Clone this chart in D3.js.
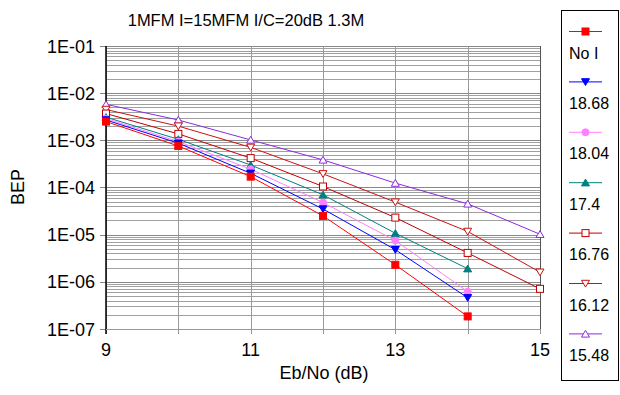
<!DOCTYPE html>
<html><head><meta charset="utf-8">
<script src="https://cdn.jsdelivr.net/npm/d3@7"></script>
<style>
body{margin:0;background:#fff;}
svg{display:block;font-family:"Liberation Sans",Arial,sans-serif;}
</style></head>
<body>
<svg id="c" width="620" height="395"></svg>
<script>
const title = "1MFM I=15MFM I/C=20dB 1.3M";
const xLabel = "Eb/No (dB)";
const yLabel = "BEP";
const xValues = [9, 10, 11, 12, 13, 14, 15];
const xTicks = [9, 11, 13, 15];
const yTicks = [1e-1, 1e-2, 1e-3, 1e-4, 1e-5, 1e-6, 1e-7];
const yTickLabels = ["1E-01", "1E-02", "1E-03", "1E-04", "1E-05", "1E-06", "1E-07"];
const seriesNames = ["No I", "18.68", "18.04", "17.4", "16.76", "16.12", "15.48"];
const sNoI   = [2.5e-3, 7.6e-4, 1.7e-4, 2.5e-5, 2.3e-6, 1.85e-7];
const s1868  = [2.7e-3, 8.7e-4, 2.0e-4, 3.5e-5, 4.8e-6, 4.6e-7];
const s1804  = [2.9e-3, 9.4e-4, 2.45e-4, 4.8e-5, 7.5e-6, 6.2e-7];
const s174   = [3.1e-3, 1.05e-3, 3.0e-4, 7.0e-5, 1.07e-5, 1.9e-6];
const s1676  = [3.7e-3, 1.37e-3, 4.2e-4, 1.05e-4, 2.3e-5, 4.1e-6, 7.1e-7];
const s1612  = [4.5e-3, 2.0e-3, 7.1e-4, 1.95e-4, 4.9e-5, 1.17e-5, 1.6e-6];
const s1548  = [5.8e-3, 2.7e-3, 1.02e-3, 3.85e-4, 1.24e-4, 4.5e-5, 1.02e-5];
const seriesValues = [sNoI, s1868, s1804, s174, s1676, s1612, s1548];
const colors = ["#ff0000", "#0000ff", "#ff80ff", "#008080", "#c00000", "#cc1111", "#8a2be2"];
const markers = ["square", "triDown", "circle", "triUp", "squareOpen", "triDownOpen", "triUpOpen"];

const svg = d3.select("#c");
const L = 106, R = 540, T = 46, B = 329;
const x = d3.scaleLinear().domain([9, 15]).range([L, R]);
const y = d3.scaleLog().domain([1e-7, 1e-1]).range([B, T]);

// grid
const g = svg.append("g");
const minors = [];
for (let e = -7; e < -1; e++) for (let m = 2; m <= 9; m++) minors.push(m * Math.pow(10, e));
g.selectAll(".mn").data(minors).enter().append("line")
  .attr("x1", L).attr("x2", R).attr("y1", d => Math.round(y(d)) + 0.5).attr("y2", d => Math.round(y(d)) + 0.5)
  .attr("stroke", "#a0a0a0").attr("stroke-width", 1);
g.selectAll(".mj").data(yTicks).enter().append("line")
  .attr("x1", L - 6).attr("x2", R).attr("y1", d => Math.round(y(d)) + 0.5).attr("y2", d => Math.round(y(d)) + 0.5)
  .attr("stroke", "#888").attr("stroke-width", 1);
g.selectAll(".vx").data(xValues).enter().append("line")
  .attr("x1", d => Math.round(x(d)) + 0.5).attr("x2", d => Math.round(x(d)) + 0.5)
  .attr("y1", T).attr("y2", B + 5)
  .attr("stroke", "#999").attr("stroke-width", 1);
// borders
svg.append("line").attr("x1", L).attr("x2", L).attr("y1", T).attr("y2", B + 5).attr("stroke", "#000").attr("stroke-width", 1.5);
svg.append("line").attr("x1", L).attr("x2", R).attr("y1", B + 0.5).attr("y2", B + 0.5).attr("stroke", "#999");
svg.append("line").attr("x1", R + 0.5).attr("x2", R + 0.5).attr("y1", T).attr("y2", B).attr("stroke", "#555");

// axes labels
svg.selectAll(".yl").data(yTicks).enter().append("text")
  .attr("x", 95).attr("y", d => y(d) + 6.5).attr("text-anchor", "end")
  .attr("font-size", 18).text((d, i) => yTickLabels[i]);
svg.selectAll(".xl").data(xTicks).enter().append("text")
  .attr("x", d => x(d)).attr("y", 356).attr("text-anchor", "middle")
  .attr("font-size", 18).text(d => d);
svg.append("text").attr("x", 324).attr("y", 379).attr("text-anchor", "middle").attr("font-size", 18).text(xLabel);
svg.append("text").attr("transform", "translate(24,187) rotate(-90)").attr("text-anchor", "middle").attr("font-size", 18).text(yLabel);
svg.append("text").attr("x", 246).attr("y", 26).attr("text-anchor", "middle").attr("font-size", 16.5).text(title);

function drawMarker(sel, type, color, cx, cy) {
  const s = 3.5;
  if (type === "square" || type === "squareOpen") {
    sel.append("rect").attr("x", cx - s).attr("y", cy - s).attr("width", 2 * s).attr("height", 2 * s)
      .attr("fill", type === "square" ? color : "#fff").attr("stroke", color).attr("stroke-width", 1);
  } else if (type === "circle") {
    sel.append("circle").attr("cx", cx).attr("cy", cy).attr("r", s).attr("fill", color).attr("stroke", color);
  } else {
    const up = type.startsWith("triUp");
    const open = type.endsWith("Open");
    const h = 4;
    const pts = up ? [[cx - h, cy + h * 0.8], [cx + h, cy + h * 0.8], [cx, cy - h * 0.9]]
                   : [[cx - h, cy - h * 0.8], [cx + h, cy - h * 0.8], [cx, cy + h * 0.9]];
    sel.append("polygon").attr("points", pts.map(p => p.join(",")).join(" "))
      .attr("fill", open ? "#fff" : color).attr("stroke", color).attr("stroke-width", 1);
  }
}

const line = d3.line().x((d, i) => x(xValues[i])).y(d => y(d));
for (let k = seriesValues.length - 1; k >= 0; k--) {
  const vals = seriesValues[k];
  svg.append("path").attr("d", line(vals)).attr("fill", "none").attr("stroke", colors[k]).attr("stroke-width", 1);
  const mg = svg.append("g");
  vals.forEach((v, i) => drawMarker(mg, markers[k], colors[k], x(xValues[i]), y(v)));
}

// legend
const lg = svg.append("g");
lg.append("rect").attr("x", 561.5).attr("y", 10.5).attr("width", 57).attr("height", 370).attr("fill", "#fff").attr("stroke", "#000").attr("stroke-width", 1);
seriesNames.forEach((n, i) => {
  const ly = 31.5 + i * 50.4;
  lg.append("line").attr("x1", 569).attr("x2", 602).attr("y1", ly).attr("y2", ly).attr("stroke", colors[i]).attr("stroke-width", 1);
  drawMarker(lg, markers[i], colors[i], 585.5, ly);
  lg.append("text").attr("x", 569).attr("y", ly + 27).attr("font-size", 16).text(n);
});
</script>
</body></html>
